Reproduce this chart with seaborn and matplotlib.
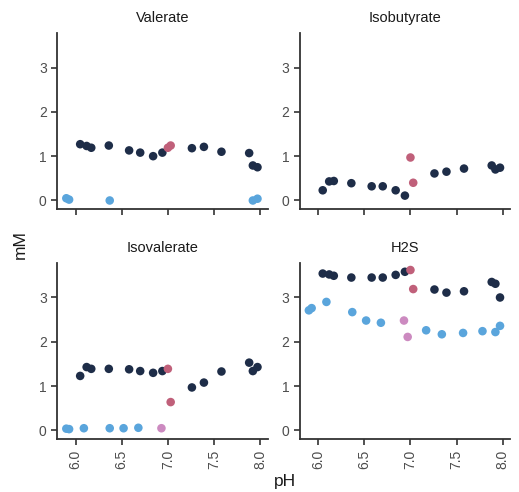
import numpy as np
import pandas as pd
import matplotlib
matplotlib.use("Agg")
import matplotlib.pyplot as plt
import seaborn as sns

nan = np.nan

panels = ["Valerate", "Isobutyrate", "Isovalerate", "H2S"]
groups = ["g1", "g2", "g3", "g4"]
colors = {"g1": "#1e2d48", "g2": "#c0607a", "g3": "#5aa5dc", "g4": "#cc8ac0"}

ph_g1 = [6.05, 6.12, 6.17, 6.36, 6.58, 6.70, 6.84, 6.94, 7.26, 7.39, 7.58, 7.88, 7.92, 7.97]
ph_g2 = [7.00, 7.03]
ph_g3 = [5.90, 5.93, 6.09, 6.37, 6.52, 6.68, 7.17, 7.34, 7.57, 7.78, 7.92, 7.97]
ph_g4 = [6.93, 6.97]

valerate_g1 = [1.27, 1.23, 1.19, 1.24, 1.13, 1.08, 1.00, 1.08, 1.18, 1.21, 1.10, 1.07, 0.79, 0.75]
valerate_g2 = [1.19, 1.24]
valerate_g3 = [0.05, 0.02, nan, 0.00, nan, nan, nan, nan, nan, nan, 0.00, 0.04]
valerate_g4 = [nan, nan]

isobutyrate_g1 = [0.23, 0.43, 0.44, 0.39, 0.32, 0.32, 0.23, 0.11, 0.61, 0.65, 0.72, 0.79, 0.70, 0.74]
isobutyrate_g2 = [0.97, 0.40]
isobutyrate_g3 = [nan] * 12
isobutyrate_g4 = [nan, nan]

isovalerate_g1 = [1.23, 1.43, 1.39, 1.39, 1.38, 1.34, 1.30, 1.34, 0.97, 1.08, 1.33, 1.53, 1.34, 1.43]
isovalerate_g2 = [1.39, 0.64]
isovalerate_g3 = [0.04, 0.03, 0.05, 0.05, 0.05, 0.06, nan, nan, nan, nan, nan, nan]
isovalerate_g4 = [0.05, nan]

h2s_g1 = [3.54, 3.52, 3.49, 3.45, 3.45, 3.45, 3.51, 3.58, 3.18, 3.11, 3.14, 3.35, 3.31, 3.00]
h2s_g2 = [3.62, 3.19]
h2s_g3 = [2.71, 2.76, 2.90, 2.67, 2.48, 2.43, 2.26, 2.17, 2.20, 2.24, 2.22, 2.36]
h2s_g4 = [2.48, 2.11]

ph = {"g1": ph_g1, "g2": ph_g2, "g3": ph_g3, "g4": ph_g4}
values = {
    "Valerate": {"g1": valerate_g1, "g2": valerate_g2, "g3": valerate_g3, "g4": valerate_g4},
    "Isobutyrate": {"g1": isobutyrate_g1, "g2": isobutyrate_g2, "g3": isobutyrate_g3, "g4": isobutyrate_g4},
    "Isovalerate": {"g1": isovalerate_g1, "g2": isovalerate_g2, "g3": isovalerate_g3, "g4": isovalerate_g4},
    "H2S": {"g1": h2s_g1, "g2": h2s_g2, "g3": h2s_g3, "g4": h2s_g4},
}

rows = []
for p in panels:
    for g in groups:
        for x, y in zip(ph[g], values[p][g]):
            if not np.isnan(y):
                rows.append({"panel": p, "group": g, "pH": x, "mM": y})
df = pd.DataFrame(rows)

sns.set_theme(style="ticks")
plt.rcParams["font.family"] = ["Liberation Sans", "DejaVu Sans"]

fig, axes = plt.subplots(2, 2, figsize=(5.19, 4.92), dpi=100, sharex=True, sharey=True)
fig.subplots_adjust(left=0.110, right=0.983, top=0.933, bottom=0.108, wspace=0.152, hspace=0.307)

draw_order = ["g3", "g4", "g1", "g2"]
for ax, p in zip(axes.flat, panels):
    sub = df[df["panel"] == p]
    for g in draw_order:
        d = sub[sub["group"] == g]
        if len(d):
            sns.scatterplot(data=d, x="pH", y="mM", color=colors[g], s=38,
                            edgecolor="none", linewidth=0, ax=ax, legend=False)
    ax.set_title(p, fontsize=10.5, color="#1a1a1a", pad=8)
    ax.set_xlabel("")
    ax.set_ylabel("")
    ax.set_xlim(5.80, 8.08)
    ax.set_ylim(-0.19, 3.78)
    ax.set_xticks([6.0, 6.5, 7.0, 7.5, 8.0])
    ax.set_yticks([0, 1, 2, 3])
    sns.despine(ax=ax)
    for sp in ["left", "bottom"]:
        ax.spines[sp].set_color("#333333")
        ax.spines[sp].set_linewidth(1.3)
    ax.tick_params(axis="both", colors="#333333", labelcolor="#4d4d4d",
                   labelsize=10, width=1.2, length=4)
    ax.tick_params(axis="y", labelleft=True)
    ax.tick_params(axis="x", labelrotation=90)

fig.text(0.039, 0.502, "mM", rotation=90, ha="center", va="center", fontsize=12.5, color="#1a1a1a")
fig.text(0.549, 0.022, "pH", ha="center", va="center", fontsize=12.5, color="#1a1a1a")

fig.savefig("out.png", dpi=100)
